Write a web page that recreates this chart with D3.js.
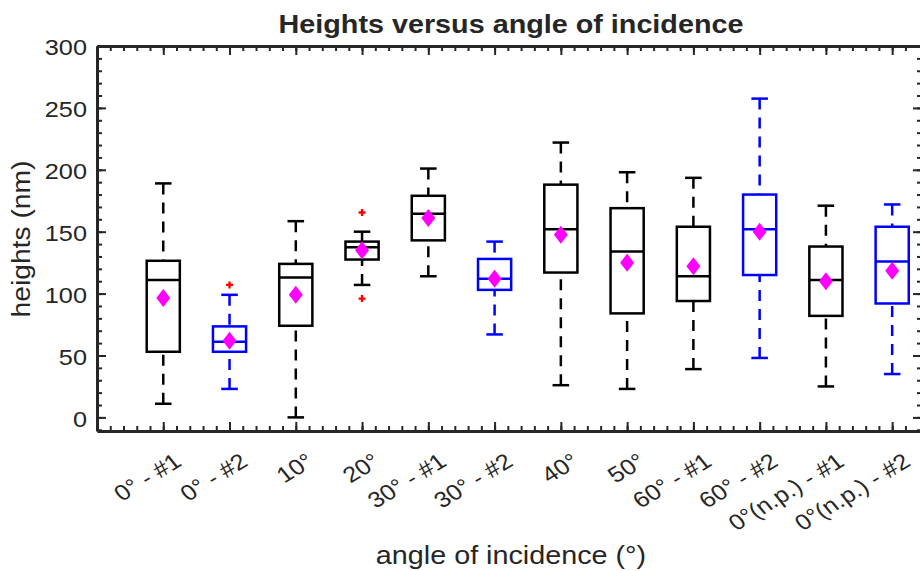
<!DOCTYPE html>
<html>
<head>
<meta charset="utf-8">
<script src="https://cdn.jsdelivr.net/npm/d3@7"></script>
<style>
  body { margin: 0; background: #fff; }
  text { font-family: "Liberation Sans", Arial, sans-serif; fill: #262626; }
</style>
</head>
<body>
<div id="container"></div>
<script>
const width = 920,
  height = 571,
  margin = { top: 46, bottom: 140, left: 97, right: -2 };

// the figure looks stretched sideways a little, text gets the same stretch
const stretch = 1.15;
const ink = "#262626";

/* DATA */
const categories = ["0° - #1", "0° - #2", "10°", "20°", "30° - #1", "30° - #2",
  "40°", "50°", "60° - #1", "60° - #2", "0°(n.p.) - #1", "0°(n.p.) - #2"];
const whiskerLow = [11, 23, 0, 107, 114, 67, 26, 23, 39, 48, 25, 35];
const lowerQuartile = [53, 53, 74, 127.5, 143, 103, 117, 84, 94, 115, 82, 92];
const medians = [111, 61, 113, 137.5, 164.5, 112, 152, 134, 114, 152, 111, 126];
const upperQuartile = [126.5, 73.5, 124, 142, 179, 128, 188, 169, 154, 180, 138, 154];
const whiskerHigh = [189, 99, 158.5, 150, 201, 142, 222, 198, 193.5, 257.5, 171, 172];
const means = [96.5, 62, 99, 135, 161, 112, 147.5, 125, 122, 150, 110, 118.5];
const outlierGroups = ["0° - #2", "20°", "20°"];
const outlierValues = [107, 165.5, 96];
const yTicks = [0, 50, 100, 150, 200, 250, 300];

// series drawn in blue
const blueGroups = new Set(["0° - #2", "30° - #2", "60° - #2", "0°(n.p.) - #2"]);

const boxes = categories.map((name, i) => ({
  name,
  pos: i + 1,
  lo: whiskerLow[i],
  q1: lowerQuartile[i],
  med: medians[i],
  q3: upperQuartile[i],
  hi: whiskerHigh[i],
  mean: means[i]
}));
const outliers = outlierGroups.map((g, i) => ({ pos: categories.indexOf(g) + 1, value: outlierValues[i] }));

/* SCALES */
const xScale = d3.scaleLinear()
  .domain([0, 12.45])
  .range([margin.left, width - margin.right]);

const yScale = d3.scaleLinear()
  .domain([-11, 300])
  .range([height - margin.bottom, margin.top]);

const color = d => blueGroups.has(d.name) ? "#0000ff" : "#000000";

const svg = d3.select("#container")
  .append("svg")
  .attr("width", width)
  .attr("height", height)
  .style("background", "#fff");

/* AXES */
const xMinor = d3.range(0, 62).map(k => k / 5);
const yMinor = d3.range(-10, 301, 10);

function styleAxis(g, domainWidth) {
  g.attr("font-family", null).attr("font-size", null);
  g.selectAll(".tick line").attr("stroke", ink).attr("stroke-width", 2);
  g.select(".domain").attr("stroke", ink).attr("stroke-width", domainWidth);
}

// minor ticks first
svg.append("g")
  .attr("transform", `translate(0, ${yScale.range()[0]})`)
  .call(d3.axisBottom(xScale).tickValues(xMinor).tickSize(-5).tickFormat(""))
  .call(g => { styleAxis(g, 0); g.select(".domain").remove(); });
svg.append("g")
  .attr("transform", `translate(0, ${yScale.range()[1]})`)
  .call(d3.axisTop(xScale).tickValues(xMinor).tickSize(-5).tickFormat(""))
  .call(g => { styleAxis(g, 0); g.select(".domain").remove(); });
svg.append("g")
  .attr("transform", `translate(${xScale.range()[0]}, 0)`)
  .call(d3.axisLeft(yScale).tickValues(yMinor).tickSize(-5).tickFormat(""))
  .call(g => { styleAxis(g, 0); g.select(".domain").remove(); });
svg.append("g")
  .attr("transform", `translate(${xScale.range()[1]}, 0)`)
  .call(d3.axisRight(yScale).tickValues(yMinor).tickSize(-5).tickFormat(""))
  .call(g => { styleAxis(g, 0); g.select(".domain").remove(); });

// major ticks + frame
const xAxisGroup = svg.append("g")
  .attr("transform", `translate(0, ${yScale.range()[0]})`)
  .call(d3.axisBottom(xScale)
    .tickValues(boxes.map(d => d.pos))
    .tickSizeInner(-9)
    .tickSizeOuter(0)
    .tickFormat(p => categories[p - 1]))
  .call(g => styleAxis(g, 3));

xAxisGroup.selectAll(".tick text")
  .attr("x", 0)
  .attr("y", 0)
  .attr("dy", "0.71em")
  .attr("text-anchor", "end")
  .attr("font-size", 22)
  .attr("fill", ink)
  .attr("transform", `translate(9, 21) scale(${stretch}, 1) rotate(-35)`);

svg.append("g")
  .attr("transform", `translate(0, ${yScale.range()[1]})`)
  .call(d3.axisTop(xScale).tickValues(boxes.map(d => d.pos)).tickSizeInner(-9).tickSizeOuter(0).tickFormat(""))
  .call(g => styleAxis(g, 3));

const yAxisGroup = svg.append("g")
  .attr("transform", `translate(${xScale.range()[0]}, 0)`)
  .call(d3.axisLeft(yScale).tickValues(yTicks).tickSizeInner(-9).tickSizeOuter(0))
  .call(g => styleAxis(g, 3));

yAxisGroup.selectAll(".tick text")
  .attr("x", 0)
  .attr("dy", "0.35em")
  .attr("font-size", 22)
  .attr("fill", ink)
  .attr("transform", `translate(-10, 1) scale(${stretch}, 1)`);

svg.append("g")
  .attr("transform", `translate(${xScale.range()[1]}, 0)`)
  .call(d3.axisRight(yScale).tickValues(yTicks).tickSizeInner(-9).tickSizeOuter(0).tickFormat(""))
  .call(g => styleAxis(g, 3));

/* BOXES */
const boxW = xScale(0.5) - xScale(0);
const capW = boxW / 2;

const groups = svg.append("g")
  .selectAll("g")
  .data(boxes)
  .join("g")
  .attr("transform", d => `translate(${xScale(d.pos)}, 0)`)
  .attr("stroke", color)
  .attr("stroke-width", 2.5)
  .attr("fill", "none");

// dashed whiskers
groups.selectAll(".whisker")
  .data(d => [[d.hi, d.q3], [d.lo, d.q1]])
  .join("line")
  .attr("class", "whisker")
  .attr("x1", 0).attr("x2", 0)
  .attr("y1", w => yScale(w[0]))
  .attr("y2", w => yScale(w[1]))
  .attr("stroke-dasharray", "11,8");

// caps
groups.selectAll(".cap")
  .data(d => [d.hi, d.lo])
  .join("line")
  .attr("class", "cap")
  .attr("x1", -capW / 2).attr("x2", capW / 2)
  .attr("y1", v => yScale(v))
  .attr("y2", v => yScale(v));

groups.append("rect")
  .attr("x", -boxW / 2)
  .attr("width", boxW)
  .attr("y", d => yScale(d.q3))
  .attr("height", d => yScale(d.q1) - yScale(d.q3));

groups.append("line")
  .attr("x1", -boxW / 2).attr("x2", boxW / 2)
  .attr("y1", d => yScale(d.med))
  .attr("y2", d => yScale(d.med));

// outliers
svg.append("g")
  .selectAll("path")
  .data(outliers)
  .join("path")
  .attr("d", d3.symbol(d3.symbolCross, 27))
  .attr("fill", "#ff0000")
  .attr("transform", d => `translate(${xScale(d.pos)}, ${yScale(d.value)})`);

// means as magenta diamonds
const dw = 7, dh = 9;
svg.append("g")
  .selectAll("path")
  .data(boxes)
  .join("path")
  .attr("d", `M0,${-dh}L${dw},0L0,${dh}L${-dw},0Z`)
  .attr("fill", "#ff00ff")
  .attr("transform", d => `translate(${xScale(d.pos)}, ${yScale(d.mean)})`);

/* LABELS */
svg.append("text")
  .attr("transform", `translate(511, 33) scale(${stretch}, 1)`)
  .attr("text-anchor", "middle")
  .attr("font-size", 25)
  .attr("font-weight", "bold")
  .attr("fill", "#000")
  .text("Heights versus angle of incidence");

svg.append("text")
  .attr("transform", `translate(511, 564) scale(${stretch}, 1)`)
  .attr("text-anchor", "middle")
  .attr("font-size", 25)
  .text("angle of incidence (°)");

svg.append("text")
  .attr("transform", `translate(30, 239) scale(1, 1.13) rotate(-90)`)
  .attr("text-anchor", "middle")
  .attr("font-size", 25)
  .text("heights (nm)");
</script>
</body>
</html>
